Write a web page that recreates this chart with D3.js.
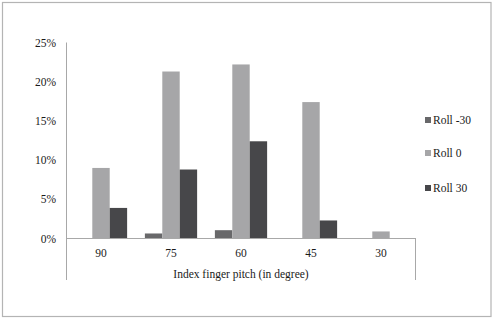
<!DOCTYPE html>
<html>
<head>
<meta charset="utf-8">
<script src="https://cdn.jsdelivr.net/npm/d3@7"></script>
<style>
  html, body { margin: 0; padding: 0; background: #fff; }
  svg { display: block; }
  text { font-family: "Liberation Serif", "Times New Roman", "DejaVu Serif", serif; fill: #1a1a1a; }
</style>
</head>
<body>
<svg id="chart" width="497" height="321"></svg>
<script>
const categories = ["90", "75", "60", "45", "30"];
const seriesNames = ["Roll -30", "Roll 0", "Roll 30"];
const rollMinus30 = [0, 0.0064, 0.0106, 0, 0];
const roll0 = [0.090, 0.213, 0.222, 0.174, 0.009];
const roll30 = [0.039, 0.088, 0.124, 0.023, 0];
const yTicks = [0, 0.05, 0.10, 0.15, 0.20, 0.25];
const seriesColors = ["#68686a", "#a6a6a8", "#47474a"];
const xTitle = "Index finger pitch (in degree)";

(function () {
const seriesValues = [rollMinus30, roll0, roll30];
const data = categories.map((c, i) => ({
  cat: c,
  vals: seriesNames.map((s, j) => ({ key: s, value: seriesValues[j][i], idx: j }))
}));

const svg = d3.select("#chart");

// outer border
svg.append("rect")
  .attr("x", 2.5).attr("y", 2.5)
  .attr("width", 488.5).attr("height", 314)
  .attr("fill", "#fff").attr("stroke", "#b4b4b4").attr("stroke-width", 1.2);

const pL = 66, pR = 416, pT = 42.5, pB = 238.5, axisBottom = 280;

const x = d3.scaleBand().domain(categories).range([pL, pR]).paddingInner(0).paddingOuter(0);
const inner = d3.scaleBand().domain(seriesNames).range([0, x.bandwidth()]).paddingInner(0).paddingOuter(0.51);
const y = d3.scaleLinear().domain([0, 0.25]).range([pB, pT]);

// bars
const g = svg.append("g");
g.selectAll("g.cat").data(data).join("g")
  .attr("class", "cat")
  .attr("transform", d => `translate(${x(d.cat)},0)`)
  .selectAll("rect").data(d => d.vals.filter(v => v.value > 0)).join("rect")
  .attr("x", v => inner(v.key))
  .attr("width", inner.bandwidth())
  .attr("y", v => y(v.value))
  .attr("height", v => y(0) - y(v.value))
  .attr("fill", v => seriesColors[v.idx]);

// y axis
const yAxis = d3.axisLeft(y).tickValues(yTicks).tickSize(0).tickPadding(10)
  .tickFormat(d3.format(".0%"));
const yg = svg.append("g").attr("transform", `translate(${pL},0)`).call(yAxis);
yg.select(".domain").remove();
yg.selectAll("text").attr("font-size", 11.5);

// axis lines
const axisColor = "#a8a8a8";
svg.append("line").attr("x1", pL + 0.5).attr("x2", pL + 0.5).attr("y1", pT).attr("y2", axisBottom)
  .attr("stroke", axisColor).attr("stroke-width", 1);
svg.append("line").attr("x1", pR - 0.5).attr("x2", pR - 0.5).attr("y1", pB).attr("y2", axisBottom)
  .attr("stroke", axisColor).attr("stroke-width", 1);
svg.append("line").attr("x1", pL).attr("x2", pR).attr("y1", pB).attr("y2", pB)
  .attr("stroke", axisColor).attr("stroke-width", 1);

// x axis labels
const xAxis = d3.axisBottom(x).tickSize(0).tickPadding(10);
const xg = svg.append("g").attr("transform", `translate(0,${pB})`).call(xAxis);
xg.select(".domain").remove();
xg.selectAll("text").attr("font-size", 11.5);

// x title
svg.append("text")
  .attr("x", (pL + pR) / 2).attr("y", 278)
  .attr("text-anchor", "middle")
  .attr("font-size", 11.5)
  .text(xTitle);

// legend
const legendY = [120, 153, 188];
const lg = svg.append("g");
seriesNames.forEach((s, i) => {
  lg.append("rect").attr("x", 425).attr("y", legendY[i] - 3).attr("width", 6).attr("height", 6)
    .attr("fill", seriesColors[i]);
  lg.append("text").attr("x", 433).attr("y", legendY[i] + 4)
    .attr("font-size", 11.5).text(s);
});
})();
</script>
</body>
</html>
